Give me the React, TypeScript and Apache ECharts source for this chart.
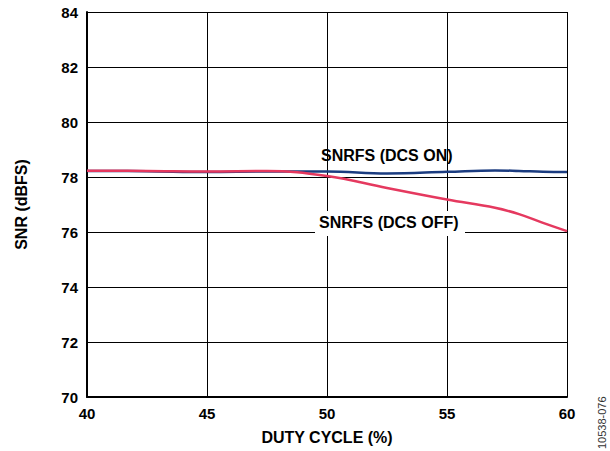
import React, { useEffect, useRef } from "react";
import * as echarts from "echarts";

const dutyCycle = [40, 42.5, 45, 47.5, 50, 52.5, 55, 57, 58, 59, 60];
const snrDcsOn = [78.22, 78.21, 78.18, 78.2, 78.2, 78.13, 78.19, 78.24, 78.22, 78.19, 78.18];
const snrDcsOff = [78.23, 78.22, 78.2, 78.22, 78.04, 77.6, 77.18, 76.88, 76.65, 76.33, 76.03];
const yTicks = [70, 72, 74, 76, 78, 80, 82, 84];
const xTicks = [40, 45, 50, 55, 60];

const FONT = "'Liberation Sans', Arial, sans-serif";

export default function App() {
  const ref = useRef<HTMLDivElement>(null);
  useEffect(() => {
    if (!ref.current) return;
    const chart = echarts.init(ref.current, null, { renderer: "svg" });
    chart.setOption({
      animation: false,
      backgroundColor: "#ffffff",
      grid: { left: 87, right: 43, top: 12, bottom: 54, containLabel: false },
      xAxis: {
        type: "value",
        min: xTicks[0],
        max: xTicks[xTicks.length - 1],
        interval: 5,
        name: "DUTY CYCLE (%)",
        nameLocation: "middle",
        nameGap: 32,
        nameTextStyle: { fontFamily: FONT, fontWeight: "bold", fontSize: 16, color: "#000" },
        axisLine: { show: true, lineStyle: { color: "#000", width: 2 } },
        axisTick: { show: false },
        axisLabel: { fontFamily: FONT, fontWeight: "bold", fontSize: 15, color: "#000", margin: 9 },
        splitLine: { show: true, lineStyle: { color: "#000", width: 1 } },
      },
      yAxis: {
        type: "value",
        min: yTicks[0],
        max: yTicks[yTicks.length - 1],
        interval: 2,
        name: "SNR (dBFS)",
        nameLocation: "middle",
        nameGap: 58,
        nameRotate: 90,
        nameTextStyle: { fontFamily: FONT, fontWeight: "bold", fontSize: 16, color: "#000" },
        axisLine: { show: true, lineStyle: { color: "#000", width: 2 } },
        axisTick: { show: false },
        axisLabel: { fontFamily: FONT, fontWeight: "bold", fontSize: 15, color: "#000", margin: 9 },
        splitLine: { show: true, lineStyle: { color: "#000", width: 1 } },
      },
      series: [
        {
          name: "SNRFS (DCS ON)",
          type: "line",
          smooth: 0.4,
          symbol: "none",
          data: dutyCycle.map((x, i) => [x, snrDcsOn[i]]),
          lineStyle: { color: "#1b3c80", width: 2.5 },
          z: 3,
        },
        {
          name: "SNRFS (DCS OFF)",
          type: "line",
          smooth: 0.4,
          symbol: "none",
          data: dutyCycle.map((x, i) => [x, snrDcsOff[i]]),
          lineStyle: { color: "#e5395f", width: 2.5 },
          z: 4,
        },
      ],
      graphic: [
        {
          type: "text",
          left: 321,
          top: 147,
          z: 10,
          style: { text: "SNRFS (DCS ON)", fontFamily: FONT, fontWeight: "bold", fontSize: 16, fill: "#000" },
        },
        {
          type: "rect",
          shape: { x: 315, y: 211, width: 150, height: 25 },
          style: { fill: "#fff" },
          z: 9,
        },
        {
          type: "text",
          left: 319,
          top: 214,
          z: 10,
          style: { text: "SNRFS (DCS OFF)", fontFamily: FONT, fontWeight: "bold", fontSize: 16, fill: "#000" },
        },
        {
          type: "text",
          x: 596,
          y: 449,
          rotation: Math.PI / 2,
          z: 10,
          style: { text: "10538-076", fontFamily: FONT, fontSize: 11, fill: "#333", verticalAlign: "top" },
        },
      ],
    });
    return () => chart.dispose();
  }, []);
  return <div ref={ref} style={{ width: 610, height: 451, position: "absolute", left: 0, top: 0 }} />;
}
